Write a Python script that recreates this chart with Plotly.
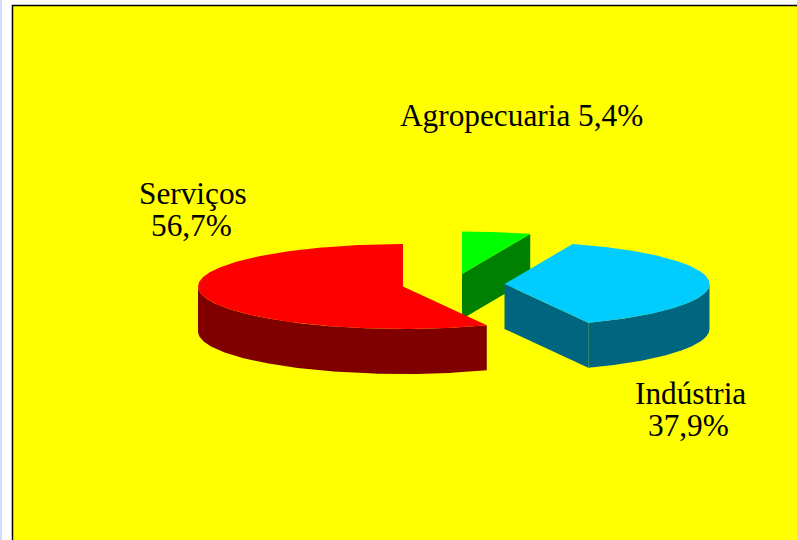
import numpy as np
import plotly.graph_objects as go

# --- data ---
categories = ["Serviços", "Indústria", "Agropecuaria"]
shares = [56.7, 37.9, 5.4]
share_labels = ["56,7%", "37,9%", "5,4%"]

# --- style / geometry of the exploded 3D pie (pixels) ---
W, H = 797, 540
RX, RY, DEPTH = 205, 42.5, 45
CENTERS = [(403, 286.5), (504.5, 284), (462, 274)]
TOP = ["#FF0000", "#00CCFF", "#00FF00"]
SIDE = ["#800000", "#006680", "#008000"]


def arc(c, a0, a1):
    """Ellipse points; angle is degrees counter-clockwise from 12 o'clock."""
    t = np.radians(np.linspace(a0, a1, max(int(abs(a1 - a0)) * 2, 2) + 1))
    return c[0] - RX * np.sin(t), c[1] - RY * np.cos(t)


def poly(fig, xs, ys, color):
    fig.add_trace(go.Scatter(
        x=list(xs) + [xs[0]], y=list(ys) + [ys[0]], mode="lines", fill="toself",
        fillcolor=color, line=dict(width=0), hoverinfo="skip", showlegend=False))


def radial_wall(fig, c, a, color):
    x, y = arc(c, a, a)
    ex, ey = x[0], y[0]
    poly(fig, [c[0], ex, ex, c[0]], [c[1], ey, ey + DEPTH, c[1] + DEPTH], color)


def outer_wall(fig, c, a0, a1, color):
    x, y = arc(c, a0, a1)
    poly(fig, np.r_[x, x[::-1]], np.r_[y, y[::-1] + DEPTH], color)


def top_face(fig, c, a0, a1, color):
    x, y = arc(c, a0, a1)
    poly(fig, np.r_[c[0], x], np.r_[c[1], y], color)


edges = np.r_[0, np.cumsum(shares)] / sum(shares) * 360
fig = go.Figure()

# Agropecuaria (behind)
radial_wall(fig, CENTERS[2], edges[2], SIDE[2])
top_face(fig, CENTERS[2], edges[2], edges[3], TOP[2])
# Serviços
outer_wall(fig, CENTERS[0], 90, edges[1], SIDE[0])
top_face(fig, CENTERS[0], edges[0], edges[1], TOP[0])
# Indústria
radial_wall(fig, CENTERS[1], edges[1], SIDE[1])
outer_wall(fig, CENTERS[1], edges[1], 270, SIDE[1])
top_face(fig, CENTERS[1], edges[1], edges[2], TOP[1])

FONT = dict(family="Liberation Serif", size=31.3, color="black")
annots = [
    (193, 193, categories[0]),
    (191, 225, share_labels[0]),
    (690, 393, categories[1]),
    (688, 425, share_labels[1]),
    (521.5, 115, f"{categories[2]} {share_labels[2]}"),
]
for x, y, text in annots:
    fig.add_annotation(x=x, y=y, text=text, showarrow=False, font=FONT,
                       xref="x", yref="y", align="center")

fig.update_layout(
    width=W, height=H, margin=dict(l=0, r=0, t=0, b=0),
    paper_bgcolor="white", plot_bgcolor="white", showlegend=False,
    xaxis=dict(range=[0, W], visible=False, fixedrange=True),
    yaxis=dict(range=[H, 0], visible=False, fixedrange=True),
    shapes=[
        dict(type="rect", xref="x", yref="y", x0=0, x1=2, y0=0, y1=H,
             fillcolor="#D0DCFF", line_width=0, layer="below"),
        dict(type="rect", xref="x", yref="y", x0=12.5, x1=W + 5, y0=5.5, y1=H + 5,
             fillcolor="#FFFF00", line=dict(color="black", width=1.5), layer="below"),
    ],
)
fig.write_html(
    "out.html", config=dict(displayModeBar=False),
    post_script="document.body.style.margin='0';document.body.style.overflow='hidden';",
)
